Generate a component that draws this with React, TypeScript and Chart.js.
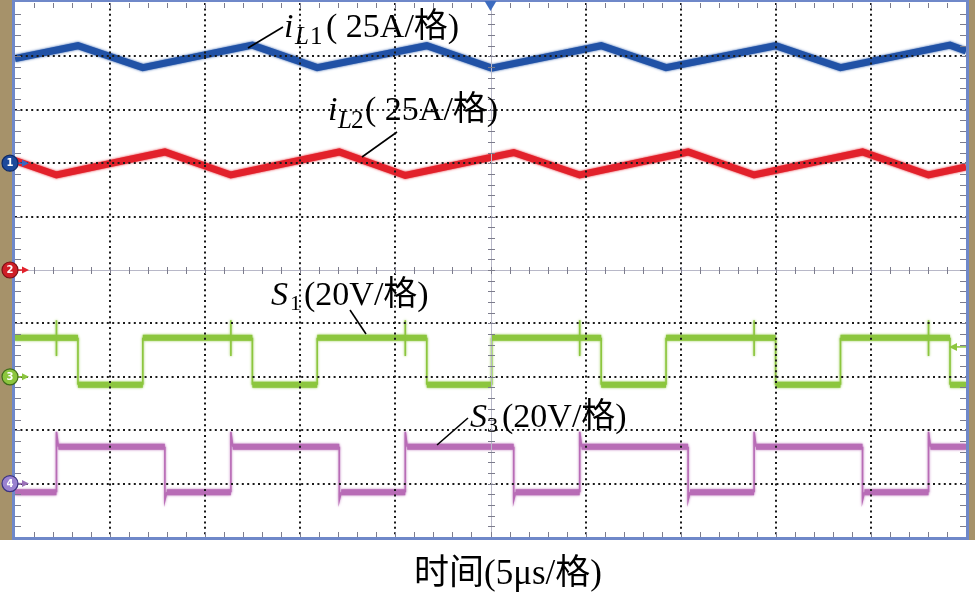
import React, { useEffect, useRef } from 'react';
import { Chart, registerables } from 'chart.js';

Chart.register(...registerables);

// Time axis in microseconds (5 μs per division, 10 divisions)
const timeMin = 0;
const timeMax = 50;
// Vertical axis in screen divisions (10 divisions, centre = 0)
const divMin = -5;
const divMax = 5;

// Inductor current iL1 (vertices of the triangular ripple, in divisions)
const iL1Time = [0, 3.31, 6.72, 12.48, 15.89, 21.65, 25.06, 30.82, 34.23, 39.99, 43.4, 49.16, 50];
const iL1Value = [3.96, 4.2, 3.79, 4.21, 3.79, 4.2, 3.78, 4.2, 3.79, 4.2, 3.79, 4.21, 4.1];

// Inductor current iL2
const iL2Time = [0, 2.18, 7.88, 11.35, 17.05, 20.52, 26.22, 29.69, 35.39, 38.86, 44.56, 48.03, 50];
const iL2Value = [2.05, 1.78, 2.21, 1.78, 2.21, 1.77, 2.2, 1.78, 2.21, 1.78, 2.21, 1.78, 1.93];

// Gate signal S1
const s1HighLevel = -1.27;
const s1LowLevel = -2.15;
const s1FallTimes = [3.31, 12.48, 21.65, 30.82, 39.99, 49.16];
const s1RiseTimes = [6.72, 15.89, 25.06, 34.23, 43.4];
const s1SpikeTimes = [2.18, 11.35, 20.52, 29.69, 38.86, 48.03];
const s1SpikeTop = -0.94;
const s1SpikeBottom = -1.61;

// Gate signal S3
const s3HighLevel = -3.31;
const s3LowLevel = -4.16;
const s3RiseTimes = [2.18, 11.35, 20.52, 29.69, 38.86, 48.03];
const s3FallTimes = [7.88, 17.05, 26.22, 35.39, 44.56];
const s3Overshoot = -3.03;
const s3Undershoot = -4.31;
const s3SettleTime = 0.1;

// Channel reference levels (divisions) and trigger
const channelLevels = [2, 0, -2, -4];
const channelNames = ['1', '2', '3', '4'];
const triggerTime = 25;
const triggerLevel = -1.44;

const COLORS = {
  iL1: '#2152a6',
  iL2: '#e2212b',
  s1: '#8cc63e',
  s3: '#b86cb6',
};

type Pt = { x: number; y: number };

function zipPoints(t: number[], v: number[]): Pt[] {
  return t.map((x, i) => ({ x, y: v[i] }));
}

function buildS1(): Pt[] {
  const ev: { t: number; k: string }[] = [
    ...s1FallTimes.map((t) => ({ t, k: 'fall' })),
    ...s1RiseTimes.map((t) => ({ t, k: 'rise' })),
    ...s1SpikeTimes.map((t) => ({ t, k: 'spike' })),
  ].sort((a, b) => a.t - b.t);
  let level = s1HighLevel;
  const pts: Pt[] = [{ x: timeMin, y: level }];
  for (const e of ev) {
    if (e.k === 'fall') {
      pts.push({ x: e.t, y: s1HighLevel }, { x: e.t, y: s1LowLevel });
      level = s1LowLevel;
    } else if (e.k === 'rise') {
      pts.push({ x: e.t, y: s1LowLevel }, { x: e.t, y: s1HighLevel });
      level = s1HighLevel;
    } else {
      pts.push({ x: e.t, y: level }, { x: e.t, y: s1SpikeTop }, { x: e.t, y: s1SpikeBottom }, { x: e.t, y: level });
    }
  }
  pts.push({ x: timeMax, y: level });
  return pts;
}

function buildS3(): Pt[] {
  const ev: { t: number; k: string }[] = [
    ...s3FallTimes.map((t) => ({ t, k: 'fall' })),
    ...s3RiseTimes.map((t) => ({ t, k: 'rise' })),
  ].sort((a, b) => a.t - b.t);
  let level = s3LowLevel;
  const pts: Pt[] = [{ x: timeMin, y: level }];
  for (const e of ev) {
    if (e.k === 'rise') {
      pts.push({ x: e.t, y: s3LowLevel }, { x: e.t, y: s3Overshoot }, { x: e.t + s3SettleTime, y: s3HighLevel });
      level = s3HighLevel;
    } else {
      pts.push({ x: e.t, y: s3HighLevel }, { x: e.t, y: s3Undershoot }, { x: e.t + s3SettleTime, y: s3LowLevel });
      level = s3LowLevel;
    }
  }
  pts.push({ x: timeMax, y: level });
  return pts;
}

const SERIF = "'Liberation Serif', 'Times New Roman', 'Noto Sans CJK SC', serif";

type Piece = { t: string; x: number; y: number; size: number; italic?: boolean };
const labelPieces: Piece[] = [
  { t: 'i', x: 284, y: 37, size: 34, italic: true },
  { t: 'L', x: 295, y: 44, size: 25, italic: true },
  { t: '1', x: 310, y: 44, size: 25 },
  { t: '( 25A/格)', x: 326, y: 37, size: 34 },
  { t: 'i', x: 328, y: 120, size: 34, italic: true },
  { t: 'L', x: 338, y: 128, size: 25, italic: true },
  { t: '2', x: 351, y: 128, size: 25 },
  { t: '( 25A/格)', x: 365, y: 120, size: 34 },
  { t: 'S', x: 271, y: 305, size: 34, italic: true },
  { t: '1', x: 290, y: 310, size: 22 },
  { t: '(20V/格)', x: 304, y: 305, size: 34 },
  { t: 'S', x: 470, y: 427, size: 34, italic: true },
  { t: '3', x: 487, y: 432, size: 22 },
  { t: '(20V/格)', x: 502, y: 427, size: 34 },
];
const leaderLines = [
  [248, 48, 283, 27],
  [362, 157, 397, 132],
  [350, 310, 366, 334],
  [437, 445, 468, 418],
];
const axisTitle = '时间(5μs/格)';

const fuzzPlugin = {
  id: 'fuzz',
  beforeDatasetDraw(chart: any, args: any) {
    const ds = chart.data.datasets[args.index];
    chart.ctx.save();
    chart.ctx.shadowColor = ds.borderColor;
    chart.ctx.shadowBlur = 2.5;
  },
  afterDatasetDraw(chart: any) {
    chart.ctx.restore();
  },
};

const scopePlugin = {
  id: 'scope',
  beforeDraw(chart: any) {
    const { ctx, chartArea: a } = chart;
    ctx.save();
    ctx.fillStyle = '#ffffff';
    ctx.fillRect(0, 0, chart.width, chart.height);
    ctx.fillStyle = '#a6926a';
    ctx.fillRect(0, 0, a.left - 3, a.bottom + 3);
    ctx.fillRect(a.right + 3, 0, chart.width - a.right - 3, a.bottom + 3);
    ctx.restore();
  },
  afterDatasetsDraw(chart: any) {
    const { ctx, chartArea: a } = chart;
    const xs = chart.scales.x;
    const ys = chart.scales.y;
    ctx.save();
    // dotted grid
    ctx.strokeStyle = '#1a1a1a';
    ctx.lineWidth = 2;
    ctx.setLineDash([2, 3.4]);
    for (let k = 1; k <= 9; k++) {
      if (k === 5) continue;
      const px = Math.round(xs.getPixelForValue(k * 5));
      ctx.beginPath();
      ctx.moveTo(px, a.top);
      ctx.lineTo(px, a.bottom);
      ctx.stroke();
    }
    for (let k = -4; k <= 4; k++) {
      if (k === 0) continue;
      const py = Math.round(ys.getPixelForValue(k));
      ctx.beginPath();
      ctx.moveTo(a.left, py);
      ctx.lineTo(a.right, py);
      ctx.stroke();
    }
    ctx.setLineDash([]);
    // centre axes
    const cx = Math.round(xs.getPixelForValue(25)) + 0.5;
    const cy = Math.round(ys.getPixelForValue(0)) + 0.5;
    ctx.strokeStyle = '#b8b8c8';
    ctx.lineWidth = 1;
    ctx.beginPath();
    ctx.moveTo(cx, a.top);
    ctx.lineTo(cx, a.bottom);
    ctx.moveTo(a.left, cy);
    ctx.lineTo(a.right, cy);
    ctx.stroke();
    // minor ticks
    ctx.strokeStyle = '#7c7c8c';
    ctx.beginPath();
    for (let i = 1; i < 50; i++) {
      const px = Math.round(xs.getPixelForValue(i)) + 0.5;
      ctx.moveTo(px, cy - 3.5);
      ctx.lineTo(px, cy + 3.5);
      ctx.moveTo(px, a.top);
      ctx.lineTo(px, a.top + 5);
      ctx.moveTo(px, a.bottom);
      ctx.lineTo(px, a.bottom - 5);
    }
    for (let i = -24; i <= 24; i++) {
      const py = Math.round(ys.getPixelForValue(i * 0.2)) + 0.5;
      ctx.moveTo(cx - 3.5, py);
      ctx.lineTo(cx + 3.5, py);
      ctx.moveTo(a.left, py);
      ctx.lineTo(a.left + 6, py);
      ctx.moveTo(a.right, py);
      ctx.lineTo(a.right - 6, py);
    }
    ctx.stroke();
    // blue frame
    ctx.strokeStyle = '#6f88c9';
    ctx.lineWidth = 3;
    ctx.strokeRect(a.left - 1.5, a.top - 1.5 - 1, a.right - a.left + 3, a.bottom - a.top + 3 + 1);

    // trigger position marker (top)
    const tx = xs.getPixelForValue(triggerTime);
    ctx.fillStyle = '#3d6cc0';
    ctx.beginPath();
    ctx.moveTo(tx - 6, 1);
    ctx.lineTo(tx + 6, 1);
    ctx.lineTo(tx, 11);
    ctx.closePath();
    ctx.fill();

    // trigger level marker (right)
    const ty = ys.getPixelForValue(triggerLevel);
    ctx.strokeStyle = COLORS.s1;
    ctx.fillStyle = COLORS.s1;
    ctx.lineWidth = 1.5;
    ctx.beginPath();
    ctx.moveTo(a.right, ty);
    ctx.lineTo(a.right - 12, ty);
    ctx.stroke();
    ctx.beginPath();
    ctx.moveTo(a.right - 17, ty);
    ctx.lineTo(a.right - 9, ty - 4);
    ctx.lineTo(a.right - 9, ty + 4);
    ctx.closePath();
    ctx.fill();

    // channel markers
    const markerFill = ['#1d4a9c', '#cf1f28', '#8cc63e', '#9a82d0'];
    const markerStroke = ['#0f2a66', '#7a1016', '#3e6a1a', '#3a3380'];
    const arrowColor = ['#3a66c0', COLORS.iL2, COLORS.s1, '#9a6fb8'];
    channelLevels.forEach((lv, i) => {
      const py = ys.getPixelForValue(lv);
      ctx.strokeStyle = arrowColor[i];
      ctx.fillStyle = arrowColor[i];
      ctx.lineWidth = 1.5;
      ctx.beginPath();
      ctx.moveTo(14, py);
      ctx.lineTo(24, py);
      ctx.stroke();
      ctx.beginPath();
      ctx.moveTo(29, py);
      ctx.lineTo(22, py - 3.5);
      ctx.lineTo(22, py + 3.5);
      ctx.closePath();
      ctx.fill();
      ctx.beginPath();
      ctx.arc(10, py, 8, 0, Math.PI * 2);
      ctx.fillStyle = markerFill[i];
      ctx.fill();
      ctx.lineWidth = 1.2;
      ctx.strokeStyle = markerStroke[i];
      ctx.stroke();
      ctx.fillStyle = '#ffffff';
      ctx.font = "bold 10px 'DejaVu Sans', sans-serif";
      ctx.textAlign = 'center';
      ctx.textBaseline = 'middle';
      ctx.fillText(channelNames[i], 10, py + 0.5);
    });

    // labels
    ctx.fillStyle = '#000000';
    ctx.textAlign = 'left';
    ctx.textBaseline = 'alphabetic';
    for (const p of labelPieces) {
      ctx.font = `${p.italic ? 'italic ' : ''}${p.size}px ${SERIF}`;
      ctx.fillText(p.t, p.x, p.y);
    }
    ctx.strokeStyle = '#000000';
    ctx.lineWidth = 1.6;
    for (const l of leaderLines) {
      ctx.beginPath();
      ctx.moveTo(l[0], l[1]);
      ctx.lineTo(l[2], l[3]);
      ctx.stroke();
    }
    // axis title
    ctx.font = `35px ${SERIF}`;
    ctx.textAlign = 'center';
    ctx.fillText(axisTitle, 508, 584);
    ctx.restore();
  },
};

export default function App() {
  const ref = useRef<HTMLCanvasElement | null>(null);
  useEffect(() => {
    if (!ref.current) return;
    const thin = (c: any) => (Math.abs(c.p1.parsed.x - c.p0.parsed.x) < 0.2 ? 1.6 : undefined);
    const chart = new Chart(ref.current, {
      type: 'line',
      data: {
        datasets: [
          { label: 'iL1', data: zipPoints(iL1Time, iL1Value), borderColor: COLORS.iL1, borderWidth: 7 },
          { label: 'iL2', data: zipPoints(iL2Time, iL2Value), borderColor: COLORS.iL2, borderWidth: 7 },
          { label: 'S1', data: buildS1(), borderColor: COLORS.s1, borderWidth: 6, segment: { borderWidth: thin } },
          { label: 'S3', data: buildS3(), borderColor: COLORS.s3, borderWidth: 6, segment: { borderWidth: thin } },
        ] as any,
      },
      options: {
        animation: false,
        responsive: false,
        maintainAspectRatio: false,
        devicePixelRatio: 1,
        layout: { padding: { left: 15, right: 9, top: 3, bottom: 56 } },
        elements: { point: { radius: 0, hoverRadius: 0 }, line: { tension: 0 } },
        scales: {
          x: { type: 'linear', min: timeMin, max: timeMax, display: false },
          y: { type: 'linear', min: divMin, max: divMax, display: false },
        },
        plugins: { legend: { display: false }, tooltip: { enabled: false } },
        events: [],
      },
      plugins: [fuzzPlugin, scopePlugin],
    } as any);
    return () => chart.destroy();
  }, []);
  return (
    <div style={{ position: 'absolute', left: 0, top: 0, width: 975, height: 593 }}>
      <canvas ref={ref} width={975} height={593} />
    </div>
  );
}
